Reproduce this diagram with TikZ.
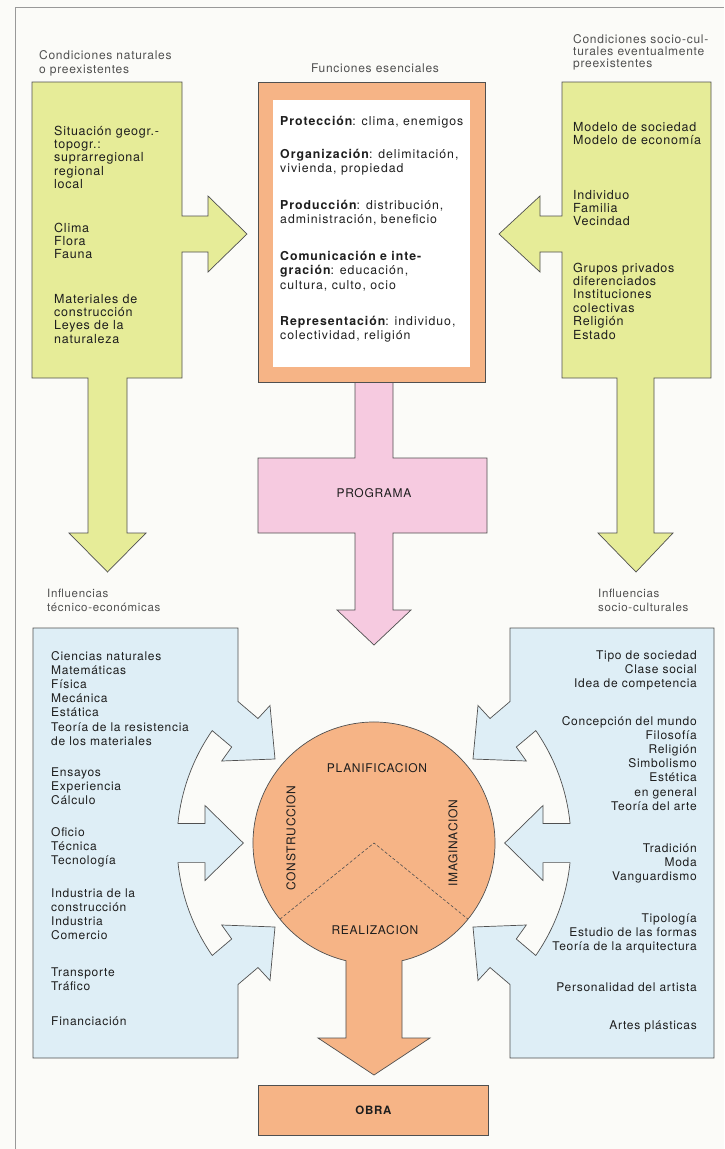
\documentclass[tikz,border=0pt]{standalone}
\usepackage{fontspec}
\setmainfont{TeX Gyre Heros}
\newfontfamily\bodyf{TeX Gyre Heros}[LetterSpace=6]
\newfontfamily\widef{TeX Gyre Heros}[LetterSpace=8]
\definecolor{yel}{RGB}{230,236,152}
\definecolor{ora}{RGB}{246,180,134}
\definecolor{pnk}{RGB}{246,202,224}
\definecolor{blu}{RGB}{222,238,246}
\definecolor{edgec}{RGB}{80,80,80}
\definecolor{ink}{RGB}{30,30,30}
\definecolor{ttl}{RGB}{80,80,80}
\definecolor{bgc}{RGB}{251,251,248}
\newcommand{\blockL}[1]{\begin{tabular}[t]{@{}l@{}}#1\end{tabular}}
\newcommand{\blockR}[1]{\begin{tabular}[t]{@{}r@{}}#1\end{tabular}}
\tikzset{
  shp/.style={draw=edgec, line width=0.7pt, line join=miter},
  body/.style={font={\bodyf\fontsize{12.5}{13.4}\selectfont}, text=ink, inner sep=0pt, anchor=base west},
  bodyb/.style={font={\bodyf\fontsize{12}{14.2}\selectfont}, text=ink, inner sep=0pt, anchor=base west},
  bodybr/.style={bodyb, anchor=base east},
  orat/.style={font={\widef\fontsize{12.3}{14.6}\selectfont}, text=ink, inner sep=0pt, anchor=base west},
  ttlt/.style={font={\bodyf\fontsize{12}{13}\selectfont}, text=ttl, inner sep=0pt, anchor=base west},
  caps/.style={font={\bodyf\fontsize{12}{14}\selectfont}, text=ink, inner sep=0pt},
}
\begin{document}
\begin{tikzpicture}[x=1pt,y=1pt]
\useasboundingbox (0,0) rectangle (724,-1149);
\fill[bgc] (0,0) rectangle (724,-1149);
\draw[black!40, line width=0.6pt] (15,-1149) -- (15,-7) -- (724,-7);

% ---------- top left yellow ----------
\path[shp, fill=yel] (32,-82) -- (182,-82) -- (182,-216) -- (208,-216) -- (208,-196) -- (247,-234) -- (208,-272) -- (208,-252) -- (182,-252) -- (182,-378) -- (127,-378) -- (127,-533) -- (146,-533) -- (107.5,-572) -- (69,-533) -- (88,-533) -- (88,-378) -- (32,-378) -- cycle;
% ---------- top right yellow ----------
\path[shp, fill=yel] (562,-82) -- (711,-82) -- (711,-378) -- (654,-378) -- (654,-533) -- (673,-533) -- (636,-572) -- (598,-533) -- (617,-533) -- (617,-378) -- (562,-378) -- (562,-252) -- (540,-252) -- (540,-272) -- (499,-234) -- (540,-196) -- (540,-216) -- (562,-216) -- cycle;
% ---------- pink programa ----------
\path[shp, fill=pnk] (355,-382) -- (355,-458) -- (258,-458) -- (258,-533) -- (355,-533) -- (355,-610) -- (337,-610) -- (374,-645) -- (411,-610) -- (393,-610) -- (393,-533) -- (487,-533) -- (487,-458) -- (393,-458) -- (393,-382) -- cycle;
% ---------- orange frame ----------
\path[shp, fill=ora] (258,-82) rectangle (485,-382);
\fill[white] (273,-100) rectangle (470,-367);

% ---------- blue left ----------
\path[shp, fill=blu] (33,-628) -- (238,-628) -- (238,-701.5) -- (258,-718.5) -- (270,-705.5) -- (275,-759) -- (221.7,-761) -- (231.7,-747) -- (212.2,-730.6) arc[start angle=145.2, end angle=174.3, radius=197] -- (205,-823.4) -- (205,-805.5) -- (243.3,-843) -- (205,-880.5) -- (205,-862.6) -- (178,-862.6) arc[start angle=185.7, end angle=214.8, radius=197] -- (231.7,-939) -- (221.7,-925) -- (275,-927) -- (270,-980.5) -- (258,-967.5) -- (238,-984.5) -- (238,-1058) -- (33,-1058) -- cycle;
% ---------- blue right (mirror) ----------
\begin{scope}[xshift=748pt, xscale=-1]
\path[shp, fill=blu] (34,-628) -- (238,-628) -- (238,-701.5) -- (258,-718.5) -- (270,-705.5) -- (275,-759) -- (221.7,-761) -- (231.7,-747) -- (212.2,-730.6) arc[start angle=145.2, end angle=174.3, radius=197] -- (205,-823.4) -- (205,-805.5) -- (243.3,-843) -- (205,-880.5) -- (205,-862.6) -- (178,-862.6) arc[start angle=185.7, end angle=214.8, radius=197] -- (231.7,-939) -- (221.7,-925) -- (275,-927) -- (270,-980.5) -- (258,-967.5) -- (238,-984.5) -- (238,-1058) -- (34,-1058) -- cycle;
\end{scope}

% ---------- circle with stem ----------
\coordinate (C) at (374,-843);
\path[shp, fill=ora] (C) ++(-76.6:121) arc[start angle=-76.6, end angle=256.6, radius=121] -- (346,-1038) -- (318,-1038) -- (374,-1075) -- (430,-1038) -- (402,-1038) -- cycle;
\draw[edgec, line width=0.6pt, dash pattern=on 3pt off 2pt] (C) ++(-141:121) -- (C) -- ++(-39:121);
% ---------- obra ----------
\node[shp, fill=ora, minimum width=230pt, minimum height=50pt, inner sep=0pt, anchor=north west, font={\bodyf\bfseries\fontsize{11.5}{13}\selectfont}, text=ink] (obra) at (258,-1085) {OBRA};

% ---------- labels ----------
\node[caps] (prog) at (374,-493) {PROGRAMA};
\node[caps] (plan) at (377,-768) {PLANIFICACION};
\node[caps] (real) at (375,-930) {REALIZACION};
\node[caps, rotate=90] (cons) at (291,-838) {CONSTRUCCION};
\node[caps, rotate=90] (imag) at (453,-843) {IMAGINACION};

% titles
\node[ttlt, font={\bodyf\fontsize{12}{14}\selectfont}] (t1) at (39,-59) {\blockL{Condiciones naturales\\o preexistentes}};
\node[ttlt, anchor=base] (t2) at (375,-72) {Funciones esenciales};
\node[ttlt, font={\bodyf\fontsize{12}{12.3}\selectfont}] (t3) at (573,-43) {\blockL{Condiciones socio-cul-\\turales eventualmente\\preexistentes}};
\node[ttlt, font={\bodyf\fontsize{11.5}{14}\selectfont}] (t4) at (47,-597) {\blockL{Influencias\\técnico-económicas}};
\node[ttlt, font={\bodyf\fontsize{11.5}{14}\selectfont}] (t5) at (598,-597) {\blockL{Influencias\\socio-culturales}};

% left yellow text
\node[body] (ly1) at (54,-135) {\blockL{Situación geogr.-\\topogr.:\\suprarregional\\regional\\local}};
\node[body] (ly2) at (54,-232) {\blockL{Clima\\Flora\\Fauna}};
\node[body] (ly3) at (54,-303) {\blockL{Materiales de\\construcción\\Leyes de la\\naturaleza}};
% right yellow text
\node[body] (ry1) at (573,-131) {\blockL{Modelo de sociedad\\Modelo de economía}};
\node[body] (ry2) at (573,-199) {\blockL{Individuo\\Familia\\Vecindad}};
\node[body] (ry3) at (573,-272) {\blockL{Grupos privados\\diferenciados\\Instituciones\\colectivas\\Religión\\Estado}};
% orange text
\node[orat] (o1) at (280,-125) {\blockL{{\bfseries Protección}: clima, enemigos}};
\node[orat] (o2) at (280,-158) {\blockL{{\bfseries Organización}: delimitación,\\vivienda, propiedad}};
\node[orat] (o3) at (280,-209) {\blockL{{\bfseries Producción}: distribución,\\administración, beneficio}};
\node[orat] (o4) at (280,-260) {\blockL{{\bfseries Comunicación e inte-}\\{\bfseries gración}: educación,\\cultura, culto, ocio}};
\node[orat] (o5) at (280,-325) {\blockL{{\bfseries Representación}: individuo,\\colectividad, religión}};
% bottom left text
\node[bodyb] (bl1) at (51,-660) {\blockL{Ciencias naturales\\Matemáticas\\Física\\Mecánica\\Estática\\Teoría de la resistencia\\de los materiales}};
\node[bodyb] (bl2) at (51,-776) {\blockL{Ensayos\\Experiencia\\Cálculo}};
\node[bodyb] (bl3) at (51,-836) {\blockL{Oficio\\Técnica\\Tecnología}};
\node[bodyb] (bl4) at (51,-897) {\blockL{Industria de la\\construcción\\Industria\\Comercio}};
\node[bodyb] (bl5) at (51,-976) {\blockL{Transporte\\Tráfico}};
\node[bodyb] (bl6) at (51,-1025) {Financiación};
% bottom right text
\node[bodybr] (br1) at (697,-659) {\blockR{Tipo de sociedad\\Clase social\\Idea de competencia}};
\node[bodybr] (br2) at (697,-725) {\blockR{Concepción del mundo\\Filosofía\\Religión\\Simbolismo\\Estética\\en general\\Teoría del arte}};
\node[bodybr] (br3) at (697,-852) {\blockR{Tradición\\Moda\\Vanguardismo}};
\node[bodybr] (br4) at (697,-922) {\blockR{Tipología\\Estudio de las formas\\Teoría de la arquitectura}};
\node[bodybr] (br5) at (697,-991) {Personalidad del artista};
\node[bodybr] (br6) at (697,-1029) {Artes plásticas};
\end{tikzpicture}
\end{document}
